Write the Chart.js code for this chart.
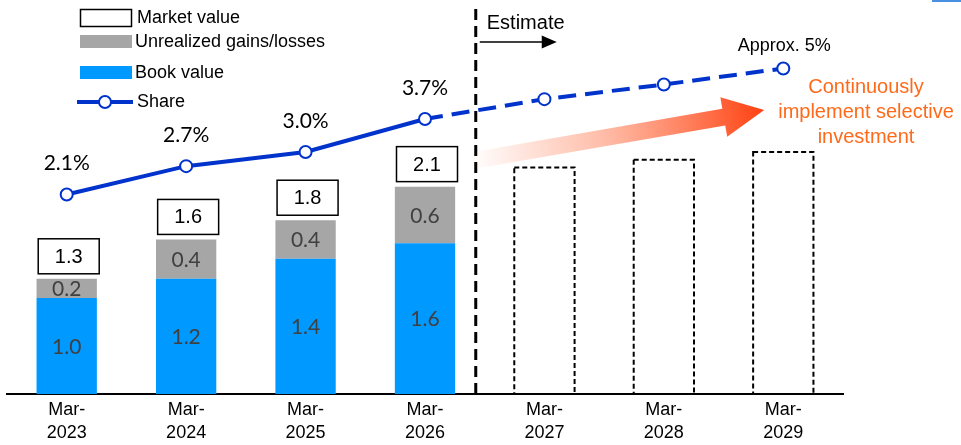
<!DOCTYPE html>
<html><head><meta charset="utf-8">
<script src="https://cdn.jsdelivr.net/npm/chart.js@4.4.0/dist/chart.umd.min.js"></script>
<style>html,body{margin:0;padding:0;background:#fff;overflow:hidden}#wrap{width:961px;height:445px;position:relative}</style>
</head><body><div id="wrap"><canvas id="c" width="961" height="445"></canvas></div>
<script>
// ---- data ----
const categories = [['Mar-','2023'],['Mar-','2024'],['Mar-','2025'],['Mar-','2026'],['Mar-','2027'],['Mar-','2028'],['Mar-','2029']];
const bookValue = [1.0, 1.2, 1.41, 1.57, null, null, null];
const unrealized = [0.2, 0.41, 0.4, 0.59, null, null, null];
const marketValue = [1.3, 1.6, 1.8, 2.1, null, null, null];
const estimateValue = [null, null, null, null, 2.36, 2.44, 2.52];
const share = [2.1, 2.7, 3.0, 3.7, 4.12, 4.43, 4.77];
const shareLabels = ['2.1%', '2.7%', '3.0%', '3.7%', '', '', 'Approx. 5%'];
const legendItems = ['Market value', 'Unrealized gains/losses', 'Book value', 'Share'];
const noteLines = ['Continuously', 'implement selective', 'investment'];
const estimateText = 'Estimate';

const ARIAL = "'Liberation Sans', Arial, sans-serif";
const CAL = "Lato, 'Liberation Sans', sans-serif";
const BLUE = '#0099FF', GRAY = '#A6A6A6', LINE = '#0033CC', ORANGE = '#FF6A1A';

const decor = {
  id: 'decor',
  beforeDatasetsDraw(chart) {
    const ctx = chart.ctx, x = chart.scales.x, ca = chart.chartArea;
    // vertical dashed separator
    const vx = x.getPixelForValue(3.425);
    ctx.save();
    ctx.strokeStyle = '#000'; ctx.lineWidth = 3; ctx.setLineDash([11, 6]);
    ctx.beginPath(); ctx.moveTo(vx, 9); ctx.lineTo(vx, ca.bottom); ctx.stroke();
    ctx.restore();
    // orange gradient arrow
    const tx = x.getPixelForValue(3.38), ty = 161;
    const hx = x.getPixelForValue(5.84), hy = 110;
    const ang = Math.atan2(hy - ty, hx - tx);
    const len = Math.hypot(hx - tx, hy - ty);
    ctx.save();
    ctx.translate(tx, ty); ctx.rotate(ang);
    const lg = ctx.createLinearGradient(0, 0, len, 0);
    lg.addColorStop(0, 'rgba(255,90,40,0)');
    lg.addColorStop(0.45, 'rgba(255,90,40,0.4)');
    lg.addColorStop(1, 'rgba(255,64,16,1)');
    ctx.fillStyle = lg;
    const hl = 41, sw = 8.5, hw = 20;
    ctx.beginPath();
    ctx.moveTo(0, -sw); ctx.lineTo(len - hl, -sw); ctx.lineTo(len - hl, -hw);
    ctx.lineTo(len, 0); ctx.lineTo(len - hl, hw); ctx.lineTo(len - hl, sw); ctx.lineTo(0, sw);
    ctx.closePath(); ctx.fill();
    ctx.restore();
  },
  afterDatasetsDraw(chart) {
    const ctx = chart.ctx;
    const bookMeta = chart.getDatasetMeta(0), unrMeta = chart.getDatasetMeta(1), estMeta = chart.getDatasetMeta(2), lineMeta = chart.getDatasetMeta(3);
    ctx.save();
    // estimate dashed bars
    ctx.strokeStyle = '#000'; ctx.lineWidth = 2; ctx.setLineDash([5, 3]);
    estMeta.data.forEach((el, i) => {
      if (estimateValue[i] == null) return;
      const w = el.width;
      ctx.strokeRect(el.x - w / 2, el.y, w, el.base - el.y);
    });
    ctx.setLineDash([]);
    // values inside bars
    ctx.font = '21px ' + CAL; ctx.fillStyle = '#404040';
    ctx.textAlign = 'center'; ctx.textBaseline = 'middle';
    bookMeta.data.forEach((el, i) => {
      if (bookValue[i] == null) return;
      ctx.fillText(bookValue[i].toFixed(1), el.x, (el.y + el.base) / 2 + 1);
    });
    unrMeta.data.forEach((el, i) => {
      if (unrealized[i] == null) return;
      ctx.fillText(unrealized[i].toFixed(1), el.x, (el.y + el.base) / 2 + 1);
    });
    // market value boxes
    unrMeta.data.forEach((el, i) => {
      if (marketValue[i] == null) return;
      const bw = 61, bh = 35, bottom = el.y - 5;
      ctx.fillStyle = '#fff';
      ctx.fillRect(el.x - bw / 2 + 2, bottom - bh, bw, bh);
      ctx.strokeStyle = '#000'; ctx.lineWidth = 1.5;
      ctx.strokeRect(el.x - bw / 2 + 2, bottom - bh, bw, bh);
      ctx.fillStyle = '#000'; ctx.font = '20px ' + ARIAL;
      ctx.fillText(marketValue[i].toFixed(1), el.x + 2, bottom - bh / 2 + 1);
    });
    // share labels
    lineMeta.data.forEach((pt, i) => {
      const t = shareLabels[i];
      if (!t) return;
      if (t.startsWith('Approx')) {
        ctx.font = '18px ' + ARIAL; ctx.fillStyle = '#000';
        ctx.fillText(t, pt.x + 1, pt.y - 22);
      } else {
        ctx.font = '21px ' + CAL; ctx.fillStyle = '#000';
        ctx.fillText(t, pt.x, pt.y - 31);
      }
    });
    ctx.restore();
  },
  afterDraw(chart) {
    const ctx = chart.ctx, x = chart.scales.x;
    ctx.save();
    // legend
    ctx.font = '18px ' + ARIAL; ctx.textAlign = 'left'; ctx.textBaseline = 'middle'; ctx.fillStyle = '#000';
    ctx.strokeStyle = '#000'; ctx.lineWidth = 1.5;
    ctx.strokeRect(80.5, 9.5, 51, 17);
    ctx.fillText(legendItems[0], 137, 18.5);
    ctx.fillStyle = GRAY; ctx.fillRect(80, 35, 52, 13);
    ctx.fillStyle = '#000'; ctx.fillText(legendItems[1], 135, 42);
    ctx.fillStyle = BLUE; ctx.fillRect(80, 66, 52, 13);
    ctx.fillStyle = '#000'; ctx.fillText(legendItems[2], 135, 73.5);
    ctx.strokeStyle = LINE; ctx.lineWidth = 4;
    ctx.beginPath(); ctx.moveTo(77, 102); ctx.lineTo(133, 102); ctx.stroke();
    ctx.fillStyle = '#fff'; ctx.lineWidth = 2;
    ctx.beginPath(); ctx.arc(105, 102, 6, 0, Math.PI * 2); ctx.fill(); ctx.stroke();
    ctx.fillStyle = '#000'; ctx.fillText(legendItems[3], 137, 102.5);
    // Estimate label + arrow
    const ex = x.getPixelForValue(3.425);
    ctx.font = '20px ' + ARIAL; ctx.fillStyle = '#000';
    ctx.fillText(estimateText, ex + 11, 23.5);
    ctx.strokeStyle = '#000'; ctx.lineWidth = 1.5;
    ctx.beginPath(); ctx.moveTo(ex + 4, 42); ctx.lineTo(ex + 67, 42); ctx.stroke();
    ctx.beginPath(); ctx.moveTo(ex + 81, 42); ctx.lineTo(ex + 66, 35.5); ctx.lineTo(ex + 66, 48.5); ctx.closePath(); ctx.fill();
    // orange note
    ctx.font = '20px ' + ARIAL; ctx.fillStyle = ORANGE; ctx.textAlign = 'center';
    const nx = 866;
    noteLines.forEach((t, i) => ctx.fillText(t, nx, 87.5 + i * 25));
    // top-right blue mark
    ctx.fillStyle = '#4A90E2'; ctx.fillRect(932, 0, 29, 2);
    ctx.restore();
  }
};

new Chart(document.getElementById('c'), {
  data: {
    labels: categories,
    datasets: [
      { type: 'bar', label: 'Book value', data: bookValue, backgroundColor: BLUE, stack: 's', order: 2 },
      { type: 'bar', label: 'Unrealized gains/losses', data: unrealized, backgroundColor: GRAY, stack: 's', order: 2 },
      { type: 'bar', label: 'Estimate', data: estimateValue, backgroundColor: 'rgba(0,0,0,0)', borderWidth: 0, stack: 's', order: 2 },
      { type: 'line', label: 'Share', data: share, yAxisID: 'y2', borderColor: LINE, borderWidth: 4,
        pointRadius: 6, pointBorderWidth: 2, pointBackgroundColor: '#fff', pointBorderColor: LINE,
        tension: 0, order: 0, clip: false,
        segment: { borderDash: c => c.p0DataIndex >= 3 ? [18, 9] : undefined } }
    ]
  },
  options: {
    responsive: false, animation: false, devicePixelRatio: 1,
    layout: { autoPadding: false, padding: { left: 7, right: 118, top: 0, bottom: 0 } },
    datasets: { bar: { categoryPercentage: 1.0, barPercentage: 0.505 } },
    plugins: { legend: { display: false }, tooltip: { enabled: false } },
    scales: {
      x: { stacked: true, offset: true,
           grid: { display: false, drawTicks: false },
           border: { display: true, color: '#000', width: 2 },
           ticks: { color: '#000', font: { family: ARIAL, size: 18, lineHeight: 1.25 }, padding: 5, maxRotation: 0, autoSkip: false },
           afterFit(s) { s.height = 51; } },
      y: { display: false, stacked: true, min: 0, max: 4.104 },
      y2: { display: false, min: -2.127, max: 6.22 }
    }
  },
  plugins: [decor]
});
</script></body></html>
